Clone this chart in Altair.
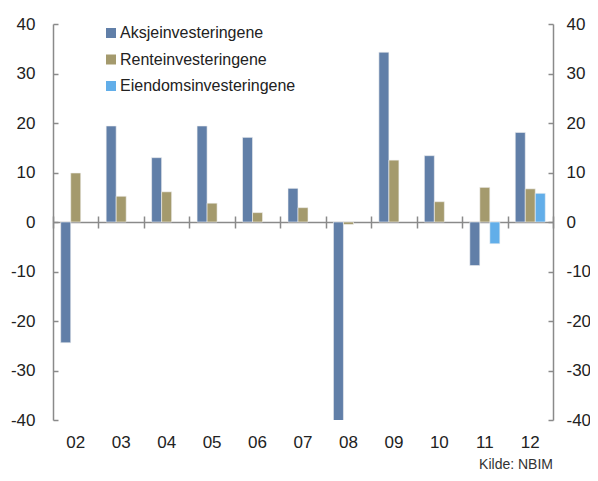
import altair as alt
import pandas as pd

years = ["02", "03", "04", "05", "06", "07", "08", "09", "10", "11", "12"]
aksje = [-24.4, 19.4, 13.0, 19.4, 17.1, 6.8, -40.7, 34.3, 13.4, -8.8, 18.1]
rente = [9.9, 5.2, 6.1, 3.8, 1.9, 2.9, -0.5, 12.5, 4.1, 7.0, 6.7]
eiendom_years = ["11", "12"]
eiendom = [-4.4, 5.8]
series = ["Aksjeinvesteringene", "Renteinvesteringene", "Eiendomsinvesteringene"]
colors = ["#617fa8", "#a49a6d", "#62aee9"]
y_ticks = [-40, -30, -20, -10, 0, 10, 20, 30, 40]

rows = []
for yr, v in zip(years, aksje):
    rows.append({"year": yr, "series": series[0], "value": v})
for yr, v in zip(years, rente):
    rows.append({"year": yr, "series": series[1], "value": v})
for yr, v in zip(eiendom_years, eiendom):
    rows.append({"year": yr, "series": series[2], "value": v})
df = pd.DataFrame(rows)

FONT = "Liberation Sans"
GRAY = "#8a8a8a"
TXT = "#222222"
W, H = 500, 396

xscale = alt.Scale(domain=years, paddingInner=0, paddingOuter=0)
yscale = alt.Scale(domain=[-40, 40], nice=False, zero=False)
label_expr = "datum.value < 0 ? '-' + abs(datum.value) : '' + datum.value"

base = alt.Chart(df)

bars = base.mark_bar(clip=True, stroke="#f2f2f2", strokeWidth=0.6).encode(
    x=alt.X("year:N", scale=xscale, sort=years, title=None,
            axis=alt.Axis(orient="bottom", domain=False, ticks=False, grid=False,
                          labelPadding=14, labelFontSize=17, labelColor=TXT,
                          labelFont=FONT, labelAngle=0)),
    xOffset=alt.XOffset("series:N", sort=series,
                        scale=alt.Scale(domain=series, paddingInner=0, paddingOuter=0.77)),
    y=alt.Y("value:Q", scale=yscale, title=None,
            axis=alt.Axis(orient="left", values=y_ticks, grid=False, ticks=False,
                          domainColor=GRAY, domainWidth=1.5, labelPadding=18,
                          labelFontSize=17, labelColor=TXT, labelFont=FONT,
                          labelExpr=label_expr)),
    color=alt.Color("series:N", sort=series,
                    scale=alt.Scale(domain=series, range=colors),
                    legend=alt.Legend(title=None, orient="none", legendX=50, legendY=1,
                                      symbolType="square", symbolSize=100,
                                      symbolStrokeWidth=0, labelFontSize=16,
                                      labelFont=FONT, labelColor=TXT, rowPadding=10.5,
                                      labelOffset=1, padding=0, labelLimit=0)),
)

zero_axes = base.mark_point(opacity=0).encode(
    x=alt.X("year:N", scale=xscale, sort=years, title=None,
            axis=alt.Axis(orient="bottom", offset=-H / 2, labels=False, grid=False,
                          domain=True, domainColor=GRAY, domainWidth=1.5,
                          ticks=True, tickSize=6, tickColor=GRAY, tickWidth=1.5,
                          tickBand="extent")),
    y=alt.Y("value:Q", scale=yscale, title=None,
            axis=alt.Axis(orient="right", values=y_ticks, grid=False, ticks=False,
                          domainColor=GRAY, domainWidth=1.5, labelPadding=13,
                          labelFontSize=17, labelColor=TXT, labelFont=FONT,
                          labelExpr=label_expr)),
)

tick_axes1 = base.mark_point(opacity=0).encode(
    x=alt.X("year:N", scale=xscale, sort=years, title=None,
            axis=alt.Axis(orient="top", offset=-H / 2, labels=False, grid=False,
                          domain=False, ticks=True, tickSize=6, tickColor=GRAY,
                          tickWidth=1.5, tickBand="extent")),
    y=alt.Y("value:Q", scale=yscale, title=None,
            axis=alt.Axis(orient="right", offset=-W, values=y_ticks, grid=False,
                          labels=False, domain=False, ticks=True, tickSize=5,
                          tickColor=GRAY, tickWidth=1.5)),
)

tick_axes2 = base.mark_point(opacity=0).encode(
    x=alt.X("year:N", scale=xscale, sort=years, axis=None),
    y=alt.Y("value:Q", scale=yscale, title=None,
            axis=alt.Axis(orient="left", offset=-W, values=y_ticks, grid=False,
                          labels=False, domain=False, ticks=True, tickSize=5,
                          tickColor=GRAY, tickWidth=1.5)),
)

chart = alt.layer(bars, zero_axes, tick_axes1, tick_axes2).resolve_axis(
    x="independent", y="independent"
).properties(
    width=W, height=H,
    title=alt.TitleParams("Kilde: NBIM", orient="bottom", anchor="end", frame="group",
                          fontSize=14, fontWeight="normal", font=FONT, color="#333333",
                          offset=8),
    autosize=alt.AutoSizeParams(type="none"),
    padding={"left": 45, "top": 16, "right": 37, "bottom": 53},
    background="white",
).configure_view(stroke=None)

chart.save("out.html", embed_options={"renderer": "svg", "actions": False})
